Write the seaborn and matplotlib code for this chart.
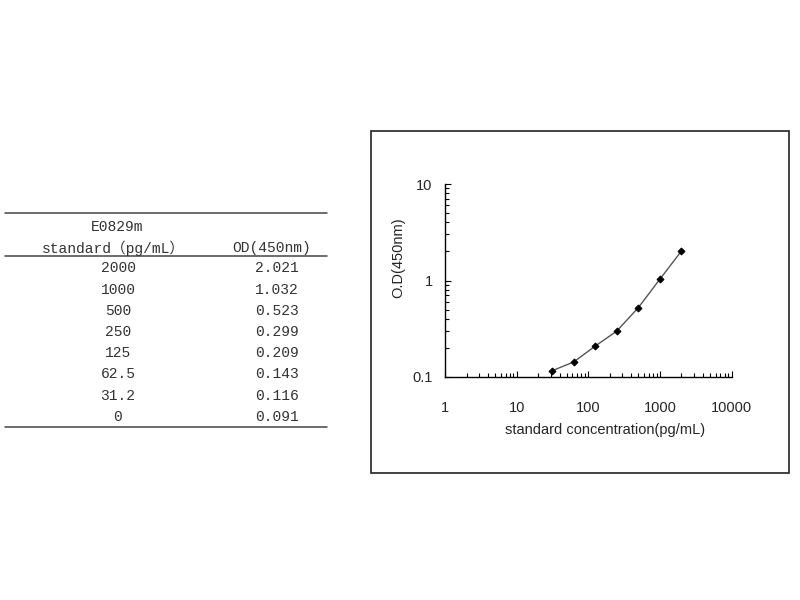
import matplotlib
matplotlib.use("Agg")
import matplotlib.pyplot as plt
import matplotlib.ticker as mticker
from matplotlib.patches import Rectangle
import pandas as pd
import seaborn as sns

# standard curve data (table + plot)
kit_name = "E0829m"
conc_labels = ["2000", "1000", "500", "250", "125", "62.5", "31.2", "0"]
od_labels = ["2.021", "1.032", "0.523", "0.299", "0.209", "0.143", "0.116", "0.091"]
conc = [2000, 1000, 500, 250, 125, 62.5, 31.2, 0]
od = [2.021, 1.032, 0.523, 0.299, 0.209, 0.143, 0.116, 0.091]

sns.set_style("white")
plt.rcParams['font.family'] = ['Liberation Sans', 'DejaVu Sans']

W, H = 800, 600
fig = plt.figure(figsize=(8, 6), dpi=100)


def fx(px):
    return px / W


def fy(py):
    return 1 - py / H


# ---- table on the left ----
mono = ['Liberation Mono', 'DejaVu Sans Mono']
tcol = '#333333'
fs = 10.5
for yy in (213, 256, 427):
    fig.add_artist(plt.Line2D([fx(5), fx(327)], [fy(yy), fy(yy)], color='#444444', lw=1.1))

fig.text(fx(117), fy(227), kit_name, family=mono, fontsize=fs, color=tcol, ha='center', va='center')
fig.text(fx(113), fy(248), "standard\uff08pg/mL\uff09", family=['Liberation Mono', 'Noto Sans CJK SC'],
         fontsize=fs, color=tcol, ha='center', va='center')
fig.text(fx(272), fy(248), "OD(450nm)", family=mono, fontsize=fs, color=tcol, ha='center', va='center')

row_y = [268, 290, 311, 332, 353, 374, 396, 417]
for c, o, yy in zip(conc_labels, od_labels, row_y):
    fig.text(fx(118), fy(yy), c, family=mono, fontsize=fs, color=tcol, ha='center', va='center')
    fig.text(fx(277), fy(yy), o, family=mono, fontsize=fs, color=tcol, ha='center', va='center')

# ---- chart box ----
fig.add_artist(Rectangle((fx(371), fy(473)), fx(789) - fx(371), fy(131) - fy(473),
                         transform=fig.transFigure, fill=False, ec='#222222', lw=1.2))

ax = fig.add_axes([fx(445), fy(377), fx(731.5) - fx(445), fy(184) - fy(377)])
df = pd.DataFrame({'conc': conc, 'od': od})
df = df[df['conc'] > 0]
sns.lineplot(data=df, x='conc', y='od', ax=ax, color='#555555', lw=1.0,
             marker='D', markersize=3.5, markerfacecolor='black', markeredgecolor='black')

ax.set_xscale('log')
ax.set_yscale('log')
ax.set_xlim(1, 10000)
ax.set_ylim(0.1, 10)
ax.xaxis.set_major_locator(mticker.LogLocator(base=10, numticks=20))
ax.yaxis.set_major_locator(mticker.LogLocator(base=10, numticks=20))
ax.xaxis.set_major_formatter(mticker.FuncFormatter(lambda v, p: f"{v:g}"))
ax.yaxis.set_major_formatter(mticker.FuncFormatter(lambda v, p: f"{v:g}"))
ax.xaxis.set_minor_locator(mticker.LogLocator(base=10, subs=range(2, 10), numticks=100))
ax.yaxis.set_minor_locator(mticker.LogLocator(base=10, subs=range(2, 10), numticks=100))
ax.xaxis.set_minor_formatter(mticker.NullFormatter())
ax.yaxis.set_minor_formatter(mticker.NullFormatter())

ax.tick_params(which='both', direction='in', color='black', width=0.8,
               bottom=True, left=True, top=False, right=False)
ax.tick_params(which='major', length=4, labelsize=10.5)
ax.tick_params(which='minor', length=3)
ax.tick_params(axis='x', which='major', pad=17)
ax.tick_params(axis='y', which='major', pad=9)

for s in ('top', 'right'):
    ax.spines[s].set_visible(False)
for s in ('left', 'bottom'):
    ax.spines[s].set_color('black')
    ax.spines[s].set_linewidth(1.0)

ax.set_xlabel("standard concentration(pg/mL)", fontsize=10.5)
ax.set_ylabel("O.D(450nm)", fontsize=10.5)
ax.xaxis.set_label_coords((605 - 445) / (731.5 - 445), -(430 - 377) / (377 - 184))
ax.yaxis.set_label_coords(-(445 - 398) / (731.5 - 445), (377 - 258) / (377 - 184))
ax.xaxis.label.set_va('center')
ax.yaxis.label.set_va('center')

fig.savefig("out.png", dpi=100)
